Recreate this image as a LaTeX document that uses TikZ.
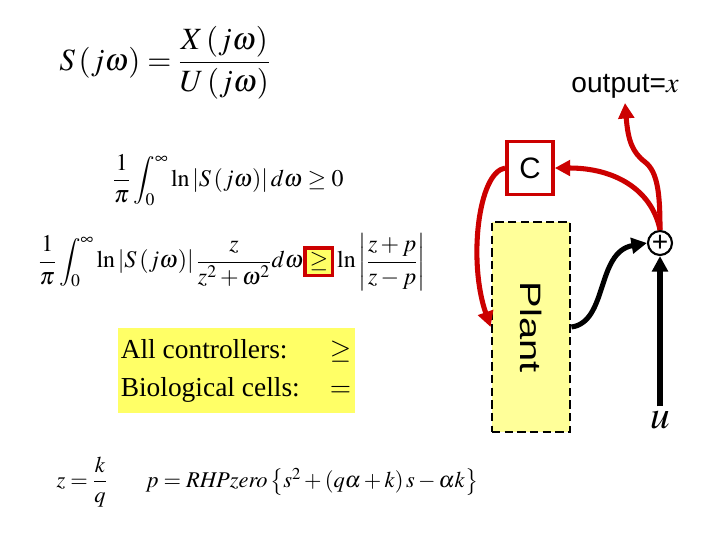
\documentclass[tikz,border=0pt]{standalone}
\usepackage{amsmath}
\usepackage{mathptmx}
\usepackage{fontspec}
\setmainfont{Liberation Serif}
\setsansfont{Liberation Sans}
\usetikzlibrary{arrows.meta}
\definecolor{fbred}{RGB}{204,0,0}
\definecolor{plantyellow}{RGB}{255,255,153}
\definecolor{noteyellow}{RGB}{255,255,102}
\begin{document}
\begin{tikzpicture}[x=0.025cm,y=-0.025cm,
        redline/.style={draw=fbred,line width=3.6pt,-{Triangle[length=11pt,width=11pt]}},
        blackline/.style={draw=black,line width=3.6pt,-{Triangle[length=11pt,width=11pt]}},
        eqnode/.style={inner sep=0pt}]
        \useasboundingbox (0,0) rectangle (720,540);
        
        % equations
        \node[eqnode,font=\fontsize{22}{24}\selectfont] (eqS) at (165,63) {$S\left(j\omega\right)=\dfrac{X\left(j\omega\right)}{U\left(j\omega\right)}$};
        \node[eqnode,font=\fontsize{17}{19}\selectfont] (eqBode) at (228,180) {$\dfrac{1}{\pi}\displaystyle\int_0^\infty \ln\left|S\left(j\omega\right)\right|d\omega\geq 0$};
        \setlength{\fboxsep}{2pt}\setlength{\fboxrule}{2.5pt}
        \node[eqnode,font=\fontsize{17}{19}\selectfont] (eqRHP) at (232,262) {$\dfrac{1}{\pi}\displaystyle\int_0^\infty \ln\left|S\left(j\omega\right)\right|\frac{z}{z^2+\omega^2}d\omega\fcolorbox{fbred}{noteyellow}{$\geq$}\ln\left|\frac{z+p}{z-p}\right|$};
        
        \node[fill=noteyellow,minimum width=237*0.025cm,minimum height=85*0.025cm,inner sep=0pt,font=\fontsize{19.5}{25}\selectfont] (note) at (236,370) {\begin{tabular}{@{}l@{\hspace{1.1em}}c@{}}All controllers: & $\geq$\\[2pt] Biological cells: & $=$\end{tabular}};
        
        \node[eqnode,font=\fontsize{16}{18}\selectfont] (eqZ) at (82,482) {$z=\dfrac{k}{q}$};
        \node[eqnode,font=\fontsize{16}{18}\selectfont] (eqP) at (312,482) {$p=\mathit{RHPzero}\left\{s^2+\left(q\alpha+k\right)s-\alpha k\right\}$};
        
        % block diagram
        \node[font=\sffamily\fontsize{20}{22}\selectfont] (out) at (625,86) {output=$x$};
        \node[draw=fbred,line width=2.5pt,fill=white,minimum width=46*0.025cm,minimum height=53*0.025cm,inner sep=0pt,font=\sffamily\fontsize{21}{22}\selectfont] (ctrl) at (530,168) {C};
        \node[draw,dash pattern=on 6pt off 3pt,line width=2pt,fill=plantyellow,minimum width=78*0.025cm,minimum height=210*0.025cm] (plant) at (531,327) {};
        \node[rotate=-90,font=\sffamily\fontsize{21}{22}\selectfont] (plantlabel) at (plant.center) {\scalebox{1.35}[1]{Plant}};
        \node[draw,circle,line width=1.5pt,fill=white,minimum size=24*0.025cm,inner sep=0pt,font=\sffamily\fontsize{20}{20}\selectfont] (sum) at (660,243) {+};
        \node[font=\fontsize{28}{28}\selectfont] (u) at (660,420) {$u$};
        
        \draw[redline] (sum.north) .. controls (660,195) and (658,172) .. (645,162) .. controls (632,152) and (628,140) .. (out.south);
        \draw[redline] (sum.north) .. controls (652,190) and (615,168) .. (ctrl.east);
        \draw[redline] (ctrl.west) .. controls (478,172) and (468,262) .. (plant.west);
        \draw[blackline] (plant.east) .. controls (608,322) and (596,252) .. (sum.west);
        \draw[blackline] (u.north) -- (sum.south);
\end{tikzpicture}
\end{document}
